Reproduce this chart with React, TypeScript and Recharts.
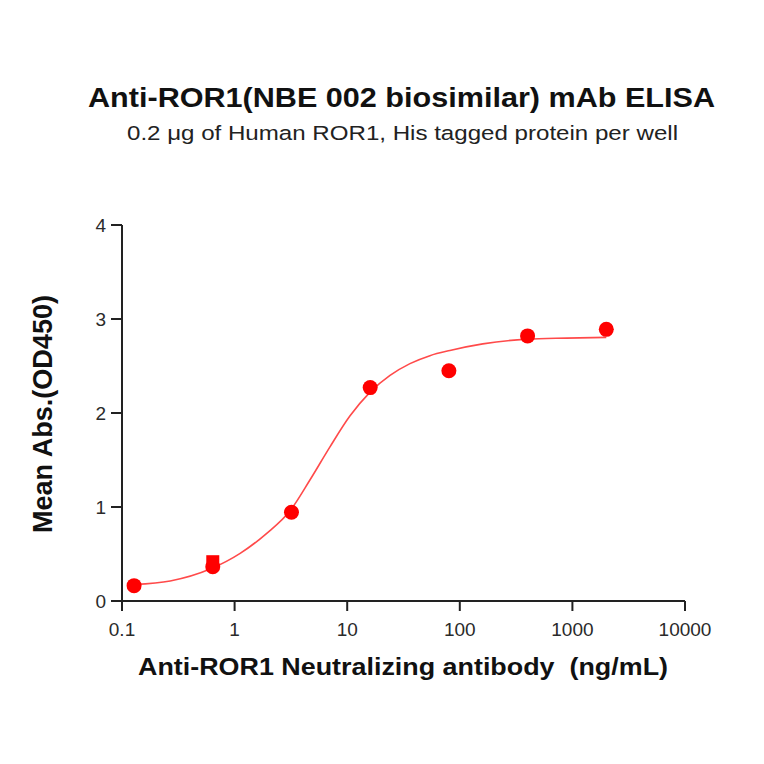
import React from "react";
import { ComposedChart, Line, Scatter, XAxis, YAxis } from "recharts";

const concentrations = [0.128, 0.64, 3.2, 16, 80, 400, 2000];
const meanAbs = [0.163, 0.365, 0.944, 2.27, 2.45, 2.82, 2.89];

const squareConc = [0.64];
const squareAbs = [0.418];

const curveConc = [0.128, 0.268, 0.607, 1.12, 1.93, 3.11, 4.68, 7.03, 10.6, 15.9, 24.0, 36.1, 54.3, 81.7, 160, 392, 887, 2000];
const curveAbs = [0.175, 0.213, 0.34, 0.507, 0.72, 0.96, 1.29, 1.64, 1.97, 2.22, 2.4, 2.525, 2.61, 2.665, 2.735, 2.785, 2.797, 2.805];

const xTicks = [0.1, 1, 10, 100, 1000, 10000];
const yTicks = [0, 1, 2, 3, 4];

const title = "Anti-ROR1(NBE 002 biosimilar) mAb ELISA";
const subtitle = "0.2 \u03bcg of Human ROR1, His tagged protein per well";
const xTitle = "Anti-ROR1 Neutralizing antibody  (ng/mL)";
const yTitle = "Mean Abs.(OD450)";

const points = concentrations.map((x, i) => ({ x, y: meanAbs[i] }));
const squares = squareConc.map((x, i) => ({ x, y: squareAbs[i] }));
const curve = curveConc.map((x, i) => ({ x, y: curveAbs[i] }));

const FONT = "'Liberation Sans', Arial, sans-serif";
const AXIS = "#222222";

const Dot = (props: any) => {
  const { cx, cy } = props;
  if (cx == null || cy == null) return null;
  return <circle cx={cx} cy={cy} r={7.5} fill="#ff0000" />;
};

const Sq = (props: any) => {
  const { cx, cy } = props;
  if (cx == null || cy == null) return null;
  return <rect x={cx - 6.5} y={cy - 6.5} width={13} height={13} fill="#ff0000" />;
};

export default function App() {
  return (
    <div style={{ position: "absolute", left: 0, top: 0, width: 764, height: 764, background: "#fff" }}>
      <ComposedChart
        width={764}
        height={764}
        margin={{ top: 225, right: 79, bottom: 103, left: 62 }}
      >
        <XAxis
          dataKey="x"
          type="number"
          scale="log"
          domain={[0.1, 10000]}
          ticks={xTicks}
          allowDataOverflow
          height={60}
          stroke={AXIS}
          strokeWidth={2}
          tickSize={10}
          tickMargin={12}
          tick={{ fill: "#2a2a2a", fontSize: 19, fontFamily: FONT }}
          tickFormatter={(v: number) => String(v)}
        />
        <YAxis
          type="number"
          domain={[0, 4]}
          ticks={yTicks}
          width={60}
          stroke={AXIS}
          strokeWidth={2}
          tickSize={11}
          tickMargin={5}
          tick={{ fill: "#2a2a2a", fontSize: 19, fontFamily: FONT }}
        />
        <Line
          data={curve}
          dataKey="y"
          type="monotone"
          stroke="#ff4a4a"
          strokeWidth={1.6}
          dot={false}
          activeDot={false}
          isAnimationActive={false}
        />
        <Scatter data={squares} dataKey="y" shape={Sq} isAnimationActive={false} />
        <Scatter data={points} dataKey="y" shape={Dot} isAnimationActive={false} />
      </ComposedChart>
      <svg
        width={764}
        height={764}
        style={{ position: "absolute", left: 0, top: 0, pointerEvents: "none" }}
      >
        <text
          x={401.5}
          y={106.5}
          textAnchor="middle"
          fontFamily={FONT}
          fontWeight="bold"
          fontSize={27}
          fill="#111"
          textLength={627}
          lengthAdjust="spacingAndGlyphs"
        >
          {title}
        </text>
        <text
          x={402.5}
          y={140}
          textAnchor="middle"
          fontFamily={FONT}
          fontSize={20.5}
          fill="#222"
          textLength={551}
          lengthAdjust="spacingAndGlyphs"
        >
          {subtitle}
        </text>
        <text
          x={403}
          y={675}
          textAnchor="middle"
          fontFamily={FONT}
          fontWeight="bold"
          fontSize={23.5}
          fill="#111"
          textLength={530}
          lengthAdjust="spacingAndGlyphs"
          style={{ whiteSpace: "pre" }}
        >
          {xTitle}
        </text>
        <text
          x={0}
          y={0}
          transform="translate(52,414) rotate(-90)"
          textAnchor="middle"
          fontFamily={FONT}
          fontWeight="bold"
          fontSize={27}
          fill="#111"
          textLength={238}
          lengthAdjust="spacingAndGlyphs"
        >
          {yTitle}
        </text>
      </svg>
    </div>
  );
}
